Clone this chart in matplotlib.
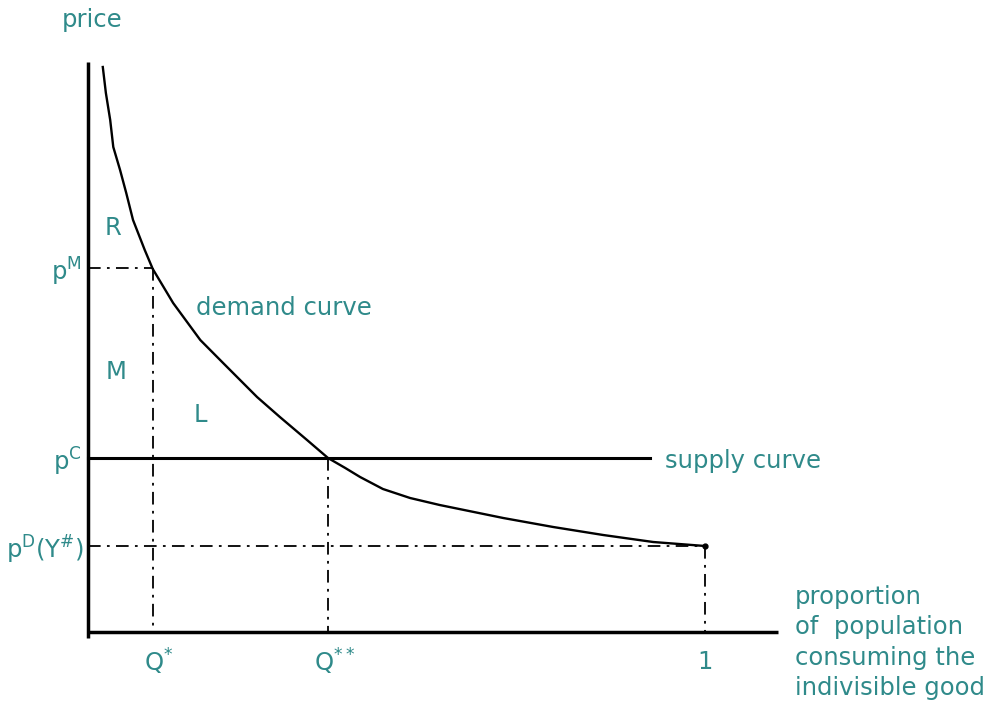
import matplotlib.pyplot as plt

# Data (x = proportion of population, y = price in arbitrary units)
demand_x = [0.024, 0.029, 0.036, 0.041, 0.052, 0.062, 0.073, 0.092, 0.105,
            0.138, 0.182, 0.219, 0.274, 0.311, 0.355, 0.389, 0.417, 0.441,
            0.478, 0.522, 0.570, 0.673, 0.754, 0.835, 0.916, 1.0]
demand_p = [5.65, 5.39, 5.12, 4.85, 4.62, 4.39, 4.12, 3.82, 3.63,
            3.29, 2.92, 2.69, 2.35, 2.15, 1.92, 1.74, 1.64, 1.55,
            1.43, 1.34, 1.27, 1.14, 1.05, 0.97, 0.90, 0.86]

q_star = 0.105
q_2star = 0.389
q_one = 1.0
p_m = 3.64
p_c = 1.74
p_d = 0.86
supply_end = 0.911

teal = '#2f8a8a'
fs = 17.5

fig = plt.figure(figsize=(9.89, 7.05), dpi=100)
ax = fig.add_axes([0, 0, 1, 1])
ax.set_xlim(-0.1426, 1.4603)
ax.set_ylim(-0.73, 6.32)
ax.axis('off')

# axes
ax.plot([0, 0], [-0.06, 5.70], color='black', lw=2.5, solid_capstyle='butt')
ax.plot([0, 1.118], [0, 0], color='black', lw=2.5, solid_capstyle='butt')

# supply and demand
ax.plot([0, supply_end], [p_c, p_c], color='black', lw=2.2)
ax.plot(demand_x, demand_p, color='black', lw=1.7, solid_joinstyle='round')
ax.plot([demand_x[-1]], [demand_p[-1]], 'o', color='black', ms=3.5)

# dash-dot guides
dd = dict(color='black', lw=1.3, dashes=(7, 3.5, 1.5, 3.5))
ax.plot([0, q_star], [p_m, p_m], **dd)
ax.plot([q_star, q_star], [p_m, 0], **dd)
ax.plot([q_2star, q_2star], [p_c, 0], **dd)
ax.plot([0, q_one], [p_d, p_d], **dd)
ax.plot([q_one, q_one], [p_d, 0], **dd)

# labels
ax.text(-0.042, 6.12, 'price', color=teal, fontsize=fs, va='center', ha='left')
ax.text(0.04, 4.04, 'R', color=teal, fontsize=fs, va='center', ha='center')
ax.text(0.045, 2.60, 'M', color=teal, fontsize=fs, va='center', ha='center')
ax.text(0.182, 2.17, 'L', color=teal, fontsize=fs, va='center', ha='center')
ax.text(0.175, 3.24, 'demand curve', color=teal, fontsize=fs, va='center', ha='left')
ax.text(0.935, 1.71, 'supply curve', color=teal, fontsize=fs, va='center', ha='left')

ax.text(-0.010, 3.60, r'p$^{\mathregular{M}}$', color=teal, fontsize=fs, va='center', ha='right')
ax.text(-0.010, 1.70, r'p$^{\mathregular{C}}$', color=teal, fontsize=fs, va='center', ha='right')
ax.text(-0.006, 0.82, r'p$^{\mathregular{D}}$(Y$^{\mathregular{\#}}$)', color=teal,
        fontsize=fs, va='center', ha='right')

ax.text(q_star + 0.01, -0.30, r'Q$^{\mathregular{*}}$', color=teal, fontsize=fs, va='center', ha='center')
ax.text(q_2star + 0.01, -0.30, r'Q$^{\mathregular{**}}$', color=teal, fontsize=fs, va='center', ha='center')
ax.text(q_one, -0.30, '1', color=teal, fontsize=fs, va='center', ha='center')

ax.text(1.146, 0.47, 'proportion\nof  population\nconsuming the\nindivisible good',
        color=teal, fontsize=fs, va='top', ha='left', linespacing=1.33)

fig.savefig('out.png', dpi=100)
